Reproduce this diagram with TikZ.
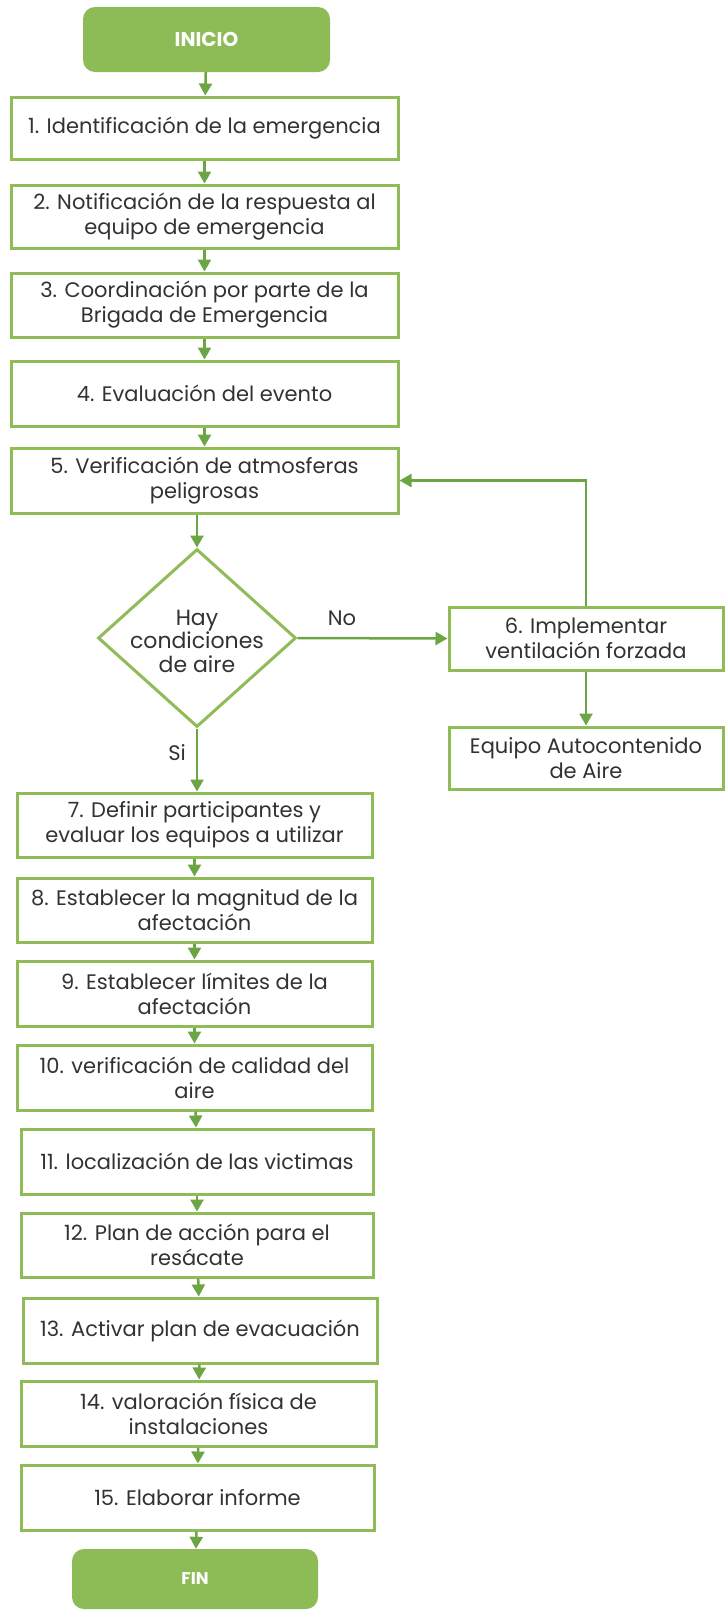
\documentclass[tikz,border=0pt]{standalone}
\usepackage{fontspec}
\setmainfont{Poppins}
\usetikzlibrary{arrows.meta,shapes.geometric,calc}
\definecolor{boxgreen}{RGB}{143,188,87}
\definecolor{arrgreen}{RGB}{108,165,68}
\definecolor{fillgreen}{RGB}{141,187,86}
\definecolor{txt}{RGB}{50,50,50}
\tikzset{
  stepbox/.style={draw=boxgreen, line width=3pt, fill=white, inner sep=0pt, align=center,
    text=txt, font=\fontsize{21}{25}\selectfont},
  term/.style={fill=fillgreen, rounded corners=12pt, inner sep=0pt, text=white,
    font=\fontsize{20}{22}\selectfont\bfseries},
  dec/.style={diamond, draw=boxgreen, line width=3pt, inner sep=0pt},
  dectext/.style={align=center, text=txt, font=\fontsize{22}{23.5}\selectfont},
  conn/.style={draw=arrgreen, line width=2.5pt, -{Triangle[length=12pt,width=13pt]}},
  lbl/.style={text=txt, font=\fontsize{21}{24}\selectfont}
}
\begin{document}
\begin{tikzpicture}[x=1pt,y=-1pt]
\useasboundingbox (0,0) rectangle (724,1610);
\fill[white] (0,0) rectangle (724,1610);
\node[term, minimum width=247pt, minimum height=65pt] (ini) at (206.5,39.5) {INICIO};
\node[stepbox, minimum width=387pt, minimum height=62pt] (b1) at (204.5,128) {1. Identificación de la emergencia};
\node[stepbox, minimum width=387pt, minimum height=63pt] (b2) at (204.5,216.5) {2. Notificación de la respuesta al\\equipo de emergencia};
\node[stepbox, minimum width=387pt, minimum height=64pt] (b3) at (204.5,305) {3. Coordinación por parte de la\\Brigada de Emergencia};
\node[stepbox, minimum width=387pt, minimum height=65pt] (b4) at (204.5,393.5) {4. Evaluación del evento};
\node[stepbox, minimum width=387pt, minimum height=65pt] (b5) at (204.5,480.5) {5. Verificación de atmosferas\\peligrosas};
\node[dec, minimum width=198pt, minimum height=178pt,
  label={[dectext, yshift=-3pt]center:{Hay\\condiciones\\de aire}}] (d) at (197,638) {};
\node[stepbox, minimum width=274pt, minimum height=63pt] (b6) at (586,638.5) {6. Implementar\\ventilación forzada};
\node[stepbox, minimum width=274pt, minimum height=62pt] (eq) at (586,758) {Equipo Autocontenido\\de Aire};
\node[stepbox, minimum width=355pt, minimum height=64pt] (b7) at (194.5,825) {7. Definir participantes y\\evaluar los equipos a utilizar};
\node[stepbox, minimum width=355pt, minimum height=64pt] (b8) at (194.5,910) {8. Establecer la magnitud de la\\afectación};
\node[stepbox, minimum width=355pt, minimum height=65pt] (b9) at (194.5,993.5) {9. Establecer límites de la\\afectación};
\node[stepbox, minimum width=355pt, minimum height=65pt] (b10) at (194.5,1077.5) {10. verificación de calidad del\\aire};
\node[stepbox, minimum width=352pt, minimum height=65pt] (b11) at (197,1161.5) {11. localización de las victimas};
\node[stepbox, minimum width=352pt, minimum height=64pt] (b12) at (197,1245) {12. Plan de acción para el\\resácate};
\node[stepbox, minimum width=354pt, minimum height=65pt] (b13) at (200,1330.5) {13. Activar plan de evacuación};
\node[stepbox, minimum width=355pt, minimum height=65pt] (b14) at (198.5,1413.5) {14. valoración física de\\instalaciones};
\node[stepbox, minimum width=353pt, minimum height=65pt] (b15) at (197.5,1497.5) {15. Elaborar informe};
\node[term, minimum width=246pt, minimum height=60pt, font=\fontsize{17}{20}\selectfont\bfseries] (fin) at (195,1579) {FIN};
\node[lbl] (no) at (342,618) {No};
\node[lbl] (si) at (177,753) {Si};
\draw[conn] (ini) -- (b1);
\draw[conn] (b1) -- (b2);
\draw[conn] (b2) -- (b3);
\draw[conn] (b3) -- (b4);
\draw[conn] (b4) -- (b5);
\draw[conn] (d.north |- b5.south) -- (d.north);
\draw[conn] (d.east) -- (b6.west);
\draw[conn] (b6.north) -- (b6.north |- b5.east) -- (b5.east);
\draw[conn] (b6) -- (eq);
\draw[conn] (d.south) -- (d.south |- b7.north);
\draw[conn] (b7) -- (b8);
\draw[conn] (b8) -- (b9);
\draw[conn] (b9) -- (b10);
\draw[conn] (b10) -- (b11);
\draw[conn] (b11) -- (b12);
\draw[conn] (b12) -- (b13);
\draw[conn] (b13) -- (b14);
\draw[conn] (b14) -- (b15);
\draw[conn] (b15) -- (fin);
\end{tikzpicture}
\end{document}
